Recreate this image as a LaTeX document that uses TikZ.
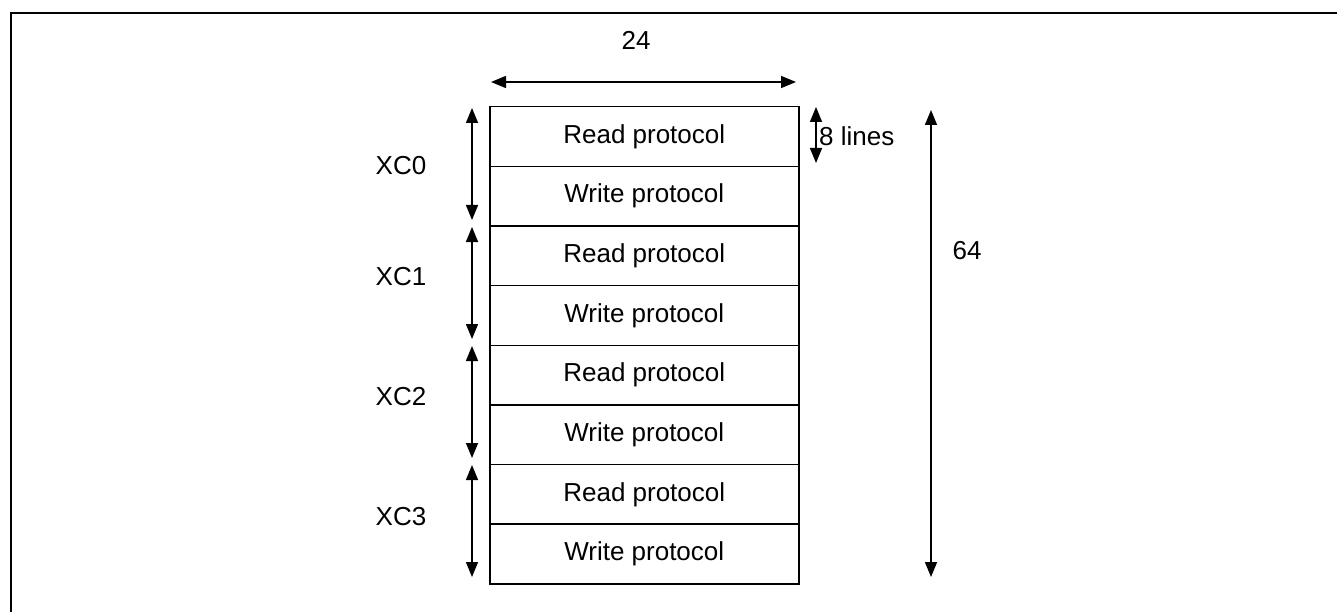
\documentclass[tikz,border=0pt]{standalone}
\usepackage{fontspec}
\setmainfont{Liberation Sans}
\usetikzlibrary{arrows.meta}
\begin{document}
\begin{tikzpicture}[x=1pt,y=-1pt,
  lbl/.style={font=\fontsize{26}{31}\selectfont, inner sep=0pt},
  row/.style={draw, line width=1.5pt, minimum width=309pt, minimum height=59.625pt, inner sep=0pt, anchor=north west, lbl},
  dim/.style={line width=1.5pt, {Triangle[length=15pt,width=12pt]}-{Triangle[length=15pt,width=12pt]}},
  frame/.style={line width=2.6pt}
]
\useasboundingbox (0,0) rectangle (1337,612);
% outer frame (open to the right and bottom)
\coordinate (f1) at (11,612);
\coordinate (f2) at (11,13);
\coordinate (f3) at (1337,13);
\draw[frame] (f1) -- (f2) -- (f3);
% rows
\node[row] (r0) at (489,106) {Read protocol};
\node[row] (r1) at (489,165.625) {Write protocol};
\node[row] (r2) at (489,225.25) {Read protocol};
\node[row] (r3) at (489,284.875) {Write protocol};
\node[row] (r4) at (489,344.5) {Read protocol};
\node[row] (r5) at (489,404.125) {Write protocol};
\node[row] (r6) at (489,463.75) {Read protocol};
\node[row] (r7) at (489,523.375) {Write protocol};
% width dimension
\coordinate (wa) at (491,82);
\coordinate (wb) at (796,82);
\draw[dim] (wa) -- (wb);
\node[lbl] (w) at (636,40) {24};
% XC dimensions
\coordinate (x0a) at (472,108);
\coordinate (x0b) at (472,220);
\coordinate (x1a) at (472,227);
\coordinate (x1b) at (472,339);
\coordinate (x2a) at (472,346);
\coordinate (x2b) at (472,458);
\coordinate (x3a) at (472,465);
\coordinate (x3b) at (472,577);
\draw[dim] (x0a) -- (x0b);
\draw[dim] (x1a) -- (x1b);
\draw[dim] (x2a) -- (x2b);
\draw[dim] (x3a) -- (x3b);
\node[lbl] (xc0) at (401,166) {XC0};
\node[lbl] (xc1) at (401,277) {XC1};
\node[lbl] (xc2) at (401,397) {XC2};
\node[lbl] (xc3) at (401,517) {XC3};
% 8 lines
\coordinate (la) at (816,107);
\coordinate (lb) at (816,163);
\draw[dim] (la) -- (lb);
\node[lbl, anchor=west] (l8) at (819,136) {8 lines};
% 64
\coordinate (ha) at (931,110);
\coordinate (hb) at (931,577);
\draw[dim] (ha) -- (hb);
\node[lbl] (h64) at (967,251) {64};
\end{tikzpicture}
\end{document}
